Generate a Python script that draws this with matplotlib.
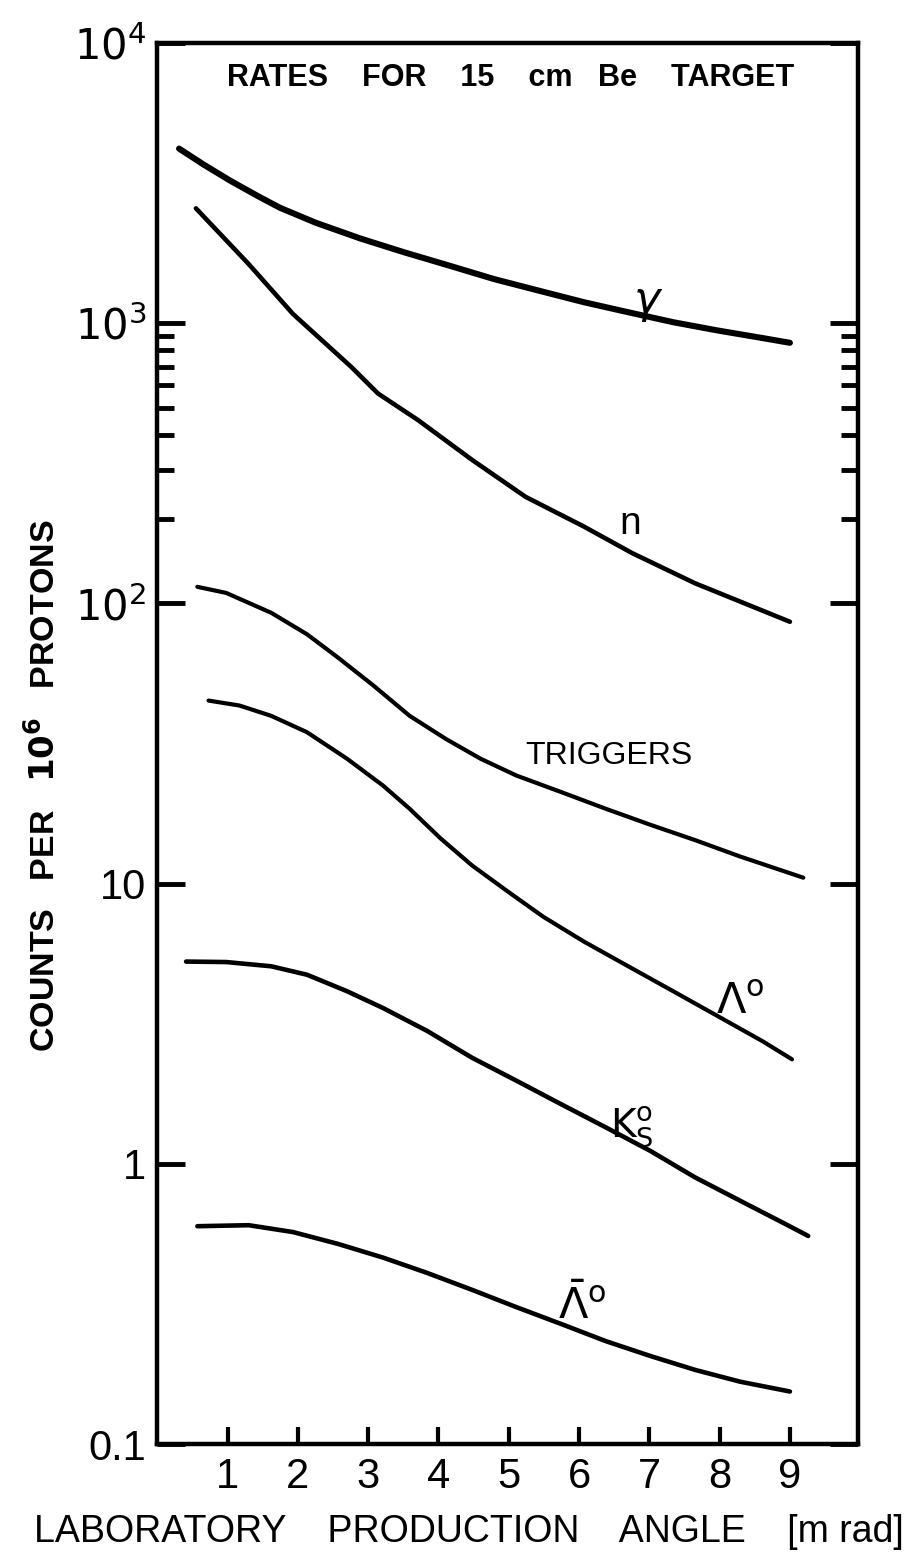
import matplotlib

matplotlib.use("Agg")
import matplotlib.pyplot as plt
from matplotlib.ticker import FixedLocator, NullFormatter

plt.rcParams["font.family"] = ["Liberation Sans", "DejaVu Sans"]
plt.rcParams["mathtext.fontset"] = "dejavusans"

# angle in mrad, counts per 10^6 protons
gamma_x = [0.31, 0.66, 1.05, 1.43, 1.74, 2.25, 2.89, 3.52, 4.16, 4.79, 5.43,
           6.07, 6.70, 7.34, 7.97, 8.61, 9.00]
gamma_y = [4198, 3681, 3212, 2843, 2585, 2285, 2005, 1788, 1603, 1437, 1306,
           1188, 1094, 1008, 942, 885, 851]

n_x = [0.55, 1.30, 1.93, 2.76, 3.14, 3.71, 4.48, 5.24, 6.07, 6.76, 7.65, 9.00]
n_y = [2570, 1626, 1079, 698, 561, 451, 325, 240, 188, 151, 118, 86]

trig_x = [0.57, 0.98, 1.62, 2.13, 2.57, 3.08, 3.59, 4.10, 4.60, 5.11, 5.75,
          6.38, 7.02, 7.65, 8.29, 9.19]
trig_y = [114.6, 109, 92.6, 77.6, 64.1, 50.8, 39.7, 32.9, 27.9, 24.3, 21.2,
          18.5, 16.2, 14.3, 12.5, 10.5]

lam_x = [0.73, 1.17, 1.62, 2.13, 2.70, 3.21, 3.59, 4.03, 4.48, 4.99, 5.49,
         6.07, 6.70, 7.34, 7.97, 8.61, 9.03]
lam_y = [45.0, 43.2, 39.7, 34.7, 27.9, 22.4, 18.5, 14.5, 11.6, 9.36, 7.62,
         6.21, 5.07, 4.13, 3.37, 2.74, 2.36]

k0_x = [0.41, 0.98, 1.62, 2.13, 2.70, 3.21, 3.84, 4.48, 5.11, 5.75, 6.38,
        7.02, 7.65, 8.29, 8.93, 9.26]
k0_y = [5.27, 5.25, 5.07, 4.73, 4.13, 3.60, 2.98, 2.39, 1.98, 1.63, 1.35,
        1.11, 0.895, 0.739, 0.611, 0.553]

alam_x = [0.57, 1.30, 1.93, 2.57, 3.21, 3.84, 4.48, 5.11, 5.75, 6.38, 7.02,
          7.65, 8.29, 9.00]
alam_y = [0.599, 0.604, 0.571, 0.518, 0.463, 0.408, 0.355, 0.308, 0.268,
          0.233, 0.206, 0.184, 0.167, 0.154]

x_ticks = [1, 2, 3, 4, 5, 6, 7, 8, 9]
y_ticks = [0.1, 1, 10, 100, 1000, 10000]
y_ticklabels = ["0.1", "1", "10", r"$10^2$", r"$10^3$", r"$10^4$"]
y_minor = [200, 300, 400, 500, 600, 700, 800, 900]

fig = plt.figure(figsize=(9.09, 15.62), dpi=100)
ax = fig.add_axes([0.173, 0.0755, 0.771, 0.897])

series = [
    (gamma_x, gamma_y, 4.4),
    (n_x, n_y, 3.3),
    (trig_x, trig_y, 3.0),
    (lam_x, lam_y, 3.0),
    (k0_x, k0_y, 3.3),
    (alam_x, alam_y, 3.3),
]
for xs, ys, lw in series:
    ax.plot(xs, ys, color="black", linewidth=lw, solid_capstyle="round",
            solid_joinstyle="round")

ax.set_yscale("log")
ax.set_xlim(0, 9.97)
ax.set_ylim(0.1, 1e4)

ax.xaxis.set_major_locator(FixedLocator(x_ticks))
ax.set_xticklabels([str(v) for v in x_ticks])
ax.yaxis.set_major_locator(FixedLocator(y_ticks))
ax.set_yticklabels(y_ticklabels)
ax.yaxis.set_minor_locator(FixedLocator(y_minor))
ax.yaxis.set_minor_formatter(NullFormatter())
ax.xaxis.set_minor_locator(FixedLocator([]))

ax.tick_params(axis="x", which="major", direction="in", length=12, width=3,
               labelsize=30, pad=9, top=False)
ax.tick_params(axis="y", which="major", direction="in", length=20, width=3.5,
               labelsize=30, pad=8, right=True)
ax.tick_params(axis="y", which="minor", direction="in", length=12, width=3.5,
               right=True)
for sp in ax.spines.values():
    sp.set_linewidth(3.2)

fig.text(469 / 909, 1 - 1532 / 1562,
         "LABORATORY    PRODUCTION    ANGLE    [m rad]",
         fontsize=27, ha="center", va="center")
ax.set_ylabel(r"COUNTS   PER   $\mathbf{10^6}$   PROTONS", fontsize=24.5,
              fontweight="bold")
ax.yaxis.set_label_coords(-0.137, 0.47)

ax.text(0.504, 0.986, "RATES    FOR    15    cm   Be    TARGET",
        transform=ax.transAxes, ha="center", va="top", fontsize=22,
        fontweight="bold")

# curve labels
ax.text(6.98, 1180, r"$\gamma$", fontsize=32, ha="center", va="center")
ax.text(6.73, 192, "n", fontsize=28, ha="center", va="center")
ax.text(6.42, 28.5, "TRIGGERS", fontsize=23, ha="center", va="center")
ax.text(8.3, 3.75, r"$\Lambda^{\mathrm{o}}$", fontsize=31, ha="center",
        va="center")
ax.text(6.75, 1.35, r"$\mathrm{K}^{\mathrm{o}}_{\mathrm{S}}$", fontsize=28,
        ha="center", va="center")
ax.text(6.05, 0.31, r"$\bar{\Lambda}^{\mathrm{o}}$", fontsize=31, ha="center",
        va="center")

fig.savefig("out.png", dpi=100)
